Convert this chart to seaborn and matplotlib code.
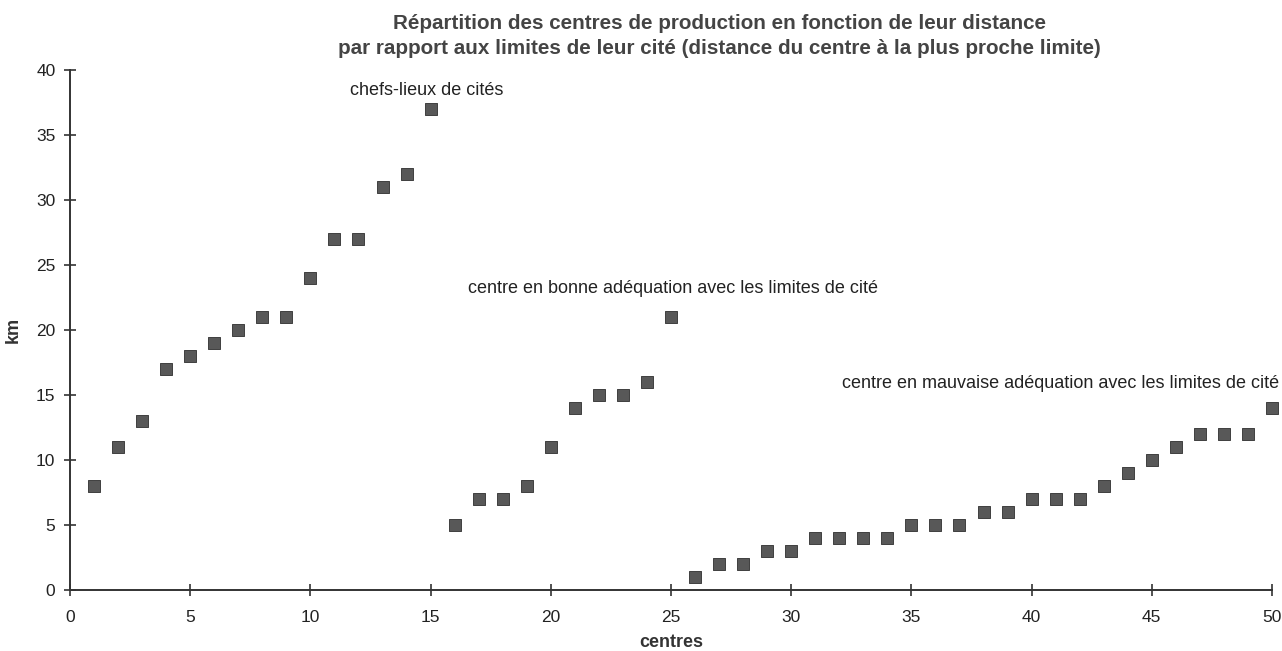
import matplotlib
matplotlib.use("Agg")
import matplotlib.pyplot as plt
import seaborn as sns
import pandas as pd

centres = list(range(1, 51))
km = [8, 11, 13, 17, 18, 19, 20, 21, 21, 24,
      27, 27, 31, 32, 37, 5, 7, 7, 8, 11,
      14, 15, 15, 16, 21, 1, 2, 2, 3, 3,
      4, 4, 4, 4, 5, 5, 5, 6, 6, 7,
      7, 7, 8, 9, 10, 11, 12, 12, 12, 14]
x_ticks = [0, 5, 10, 15, 20, 25, 30, 35, 40, 45, 50]
y_ticks = [0, 5, 10, 15, 20, 25, 30, 35, 40]
title = ("Répartition des centres de production en fonction de leur distance\n"
         "par rapport aux limites de leur cité (distance du centre à la plus proche limite)")
labels = ["chefs-lieux de cités",
          "centre en bonne adéquation avec les limites de cité",
          "centre en mauvaise adéquation avec les limites de cité"]

sns.set_theme(style="ticks")
plt.rcParams['font.family'] = ['Liberation Sans', 'DejaVu Sans']

df = pd.DataFrame({"centres": centres, "km": km})

fig = plt.figure(figsize=(12.82, 6.51), dpi=100)
ax = fig.add_axes([0.0546, 0.0937, 0.9376, 0.7988])
sns.scatterplot(data=df, x="centres", y="km", ax=ax, marker="s", s=78,
                color="#585858", edgecolor="#2e2e2e", linewidth=0.6,
                clip_on=False, zorder=3)

ax.set_xlim(0, 50)
ax.set_ylim(0, 40)
ax.set_xticks(x_ticks)
ax.set_yticks(y_ticks)
ax.tick_params(axis="both", direction="inout", length=9, width=1.2,
               colors="#333333", labelsize=12.5, labelcolor="#222222",
               bottom=True, left=True)
ax.tick_params(axis="y", pad=6)
ax.tick_params(axis="x", pad=10)
for side in ["top", "right"]:
    ax.spines[side].set_visible(False)
for side in ["left", "bottom"]:
    ax.spines[side].set_color("#333333")
    ax.spines[side].set_linewidth(1.4)

ax.set_xlabel("centres", fontsize=13, fontweight="bold", color="#333333", va="center")
ax.xaxis.set_label_coords(0.5, -0.1)
ax.set_ylabel("km", fontsize=13, fontweight="bold", color="#333333")
ax.yaxis.set_label_coords(-0.040, 0.5)
fig.text(0.561, 0.978, title, ha="center", va="top", fontsize=14.9,
         fontweight="bold", color="#444444", linespacing=1.4)

ax.text(14.85, 38.4, labels[0], ha="center", va="center", fontsize=13, color="#222222")
ax.text(25.1, 23.2, labels[1], ha="center", va="center", fontsize=13, color="#222222")
ax.text(50.3, 15.85, labels[2], ha="right", va="center", fontsize=13, color="#222222")

fig.savefig("out.png", dpi=100)
